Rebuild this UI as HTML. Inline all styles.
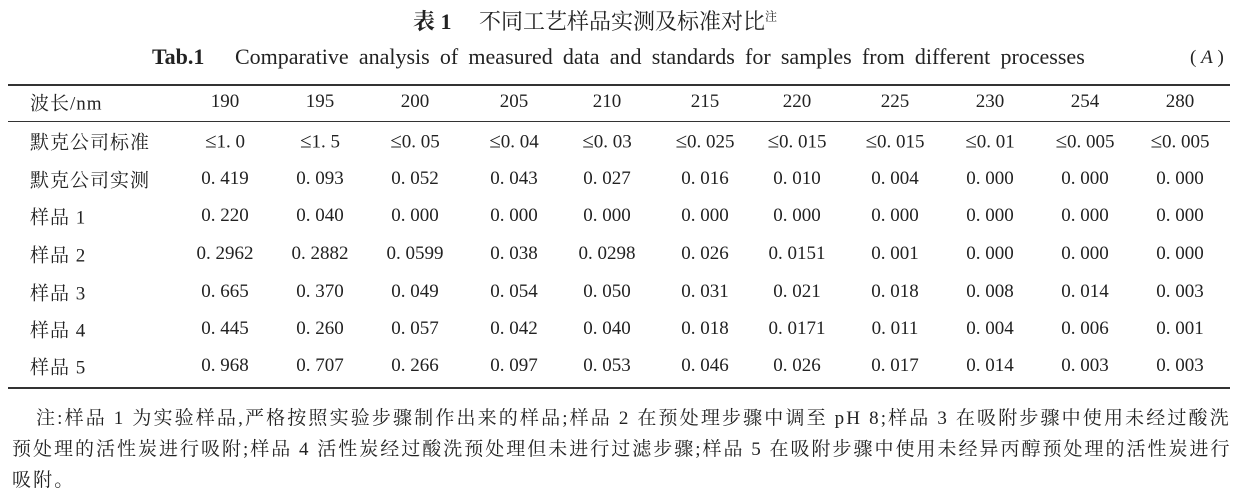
<!DOCTYPE html>
<html><head><meta charset="utf-8"><style>
body{margin:0;width:1239px;height:500px;background:#fff;position:relative;overflow:hidden;font-family:"Liberation Serif","Noto Serif CJK SC",serif;color:#222}
.a{position:absolute;white-space:nowrap}
.c{position:absolute;transform:translate(-50%,-50%);white-space:nowrap;font-size:19px}
.l{position:absolute;transform:translateY(-50%);white-space:nowrap;font-size:19px;left:30px;letter-spacing:1px}
.r{position:absolute;left:8px;width:1222px;background:#333}
.n{font-size:19px;letter-spacing:2.15px}
</style></head><body>
<div class="a" style="left:413px;top:5px;font-size:22px"><b>表 1</b>&nbsp;&nbsp;&nbsp;&nbsp;&nbsp;不同工艺样品实测及标准对比<sup style="font-size:12px">注</sup></div>
<div class="a" style="left:152px;top:44px;font-size:22px;word-spacing:4.7px"><b>Tab.1</b>&nbsp;&nbsp;&nbsp;Comparative analysis of measured data and standards for samples from different processes</div>
<div class="a" style="left:1190px;top:47px;font-size:19px">( <i>A</i> )</div>
<div class="r" style="top:84px;height:2px"></div>
<div class="r" style="top:121px;height:1px"></div>
<div class="r" style="top:387px;height:2px"></div>
<div id="t"></div>
<div class="a n" style="left:36px;top:403px">注:样品 1 为实验样品,严格按照实验步骤制作出来的样品;样品 2 在预处理步骤中调至 pH 8;样品 3 在吸附步骤中使用未经过酸洗</div>
<div class="a n" style="left:12px;top:434px;letter-spacing:2px">预处理的活性炭进行吸附;样品 4 活性炭经过酸洗预处理但未进行过滤步骤;样品 5 在吸附步骤中使用未经异丙醇预处理的活性炭进行</div>
<div class="a n" style="left:12px;top:465px">吸附。</div>
<script>
var xs=[225,320,415,514,607,705,797,895,990,1085,1180];
var ys=[102,141,179,216,254,292,329,366];
var rows=[["波长/nm","190","195","200","205","210","215","220","225","230","254","280"],
["默克公司标准","≤1. 0","≤1. 5","≤0. 05","≤0. 04","≤0. 03","≤0. 025","≤0. 015","≤0. 015","≤0. 01","≤0. 005","≤0. 005"],
["默克公司实测","0. 419","0. 093","0. 052","0. 043","0. 027","0. 016","0. 010","0. 004","0. 000","0. 000","0. 000"],
["样品 1","0. 220","0. 040","0. 000","0. 000","0. 000","0. 000","0. 000","0. 000","0. 000","0. 000","0. 000"],
["样品 2","0. 2962","0. 2882","0. 0599","0. 038","0. 0298","0. 026","0. 0151","0. 001","0. 000","0. 000","0. 000"],
["样品 3","0. 665","0. 370","0. 049","0. 054","0. 050","0. 031","0. 021","0. 018","0. 008","0. 014","0. 003"],
["样品 4","0. 445","0. 260","0. 057","0. 042","0. 040","0. 018","0. 0171","0. 011","0. 004","0. 006","0. 001"],
["样品 5","0. 968","0. 707","0. 266","0. 097","0. 053","0. 046","0. 026","0. 017","0. 014","0. 003","0. 003"]];
var h="";
rows.forEach(function(r,i){h+='<div class="l" style="top:'+ys[i]+'px">'+r[0]+'</div>';
for(var j=1;j<r.length;j++)h+='<div class="c" style="left:'+xs[j-1]+'px;top:'+ys[i]+'px">'+r[j].replace('≤','<span style="font-size:21px">≤</span>')+'</div>';});
document.getElementById("t").innerHTML=h;
</script>
</body></html>
